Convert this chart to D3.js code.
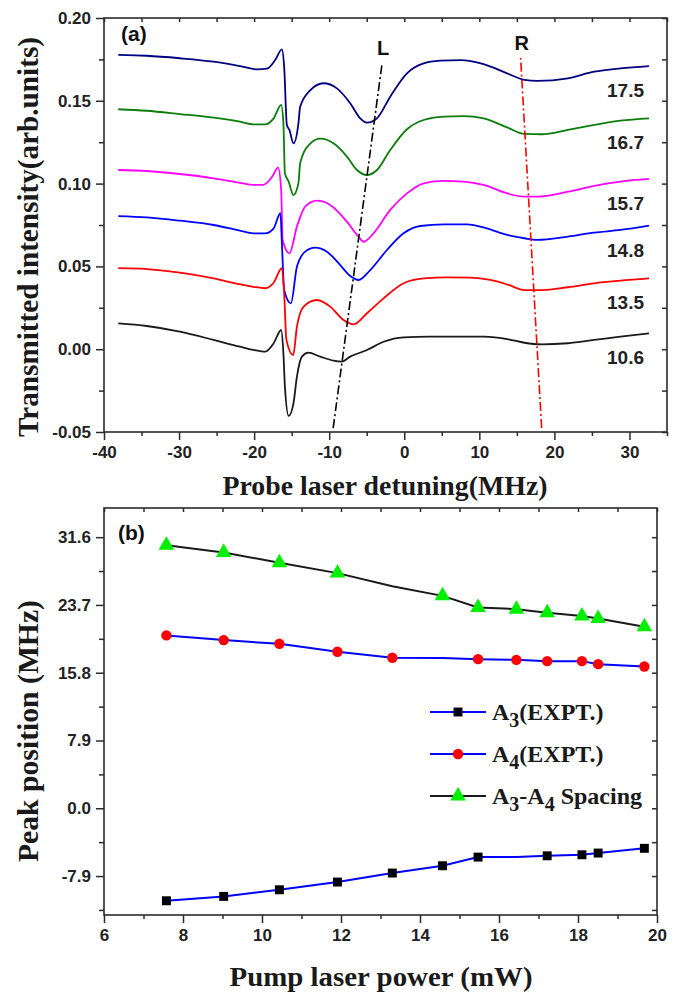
<!DOCTYPE html>
<html>
<head>
<meta charset="utf-8">
<script src="https://cdn.jsdelivr.net/npm/d3@7"></script>
<style>
body { margin: 0; background: #fff; }
.tick text { font-family: "Liberation Sans", Arial, sans-serif; font-weight: bold; font-size: 17px; fill: #222; }
.axis path { display: none; }
.axis line { stroke: #2b2b2b; stroke-width: 1.5px; }
</style>
</head>
<body>
<svg id="chart" width="687" height="995"></svg>
<script>
// ---- panel (a): transmission spectra, one per pump power (mW) ----
const detuneTicks = [-40, -30, -20, -10, 0, 10, 20, 30];
const intensityTicks = [-0.05, 0.00, 0.05, 0.10, 0.15, 0.20];

const trace175 = [[-38.1,0.1777],[-34.3,0.1772],[-29.9,0.1757],[-25.4,0.1736],[-21.9,0.1710],[-19.6,0.1690],[-18.3,0.1694],[-17.2,0.1746],[-16.3,0.1811],[-16.0,0.1706],[-15.64,0.1354],[-15.3,0.1324],[-14.76,0.1243],[-14.1,0.1364],[-13.87,0.1464],[-12.5,0.1565],[-10.76,0.1606],[-8.97,0.1575],[-7.2,0.1485],[-5.87,0.1394],[-4.97,0.1368],[-3.64,0.1394],[-1.87,0.1525],[0.36,0.1666],[2.58,0.1726],[4.8,0.1742],[7.47,0.1746],[10.57,0.1722],[13.7,0.1666],[16.0,0.1626],[17.7,0.1620],[21.8,0.1636],[25.3,0.1676],[28.8,0.1696],[32.6,0.1710]];
const trace167 = [[-38.1,0.1449],[-34.3,0.1440],[-29.9,0.1420],[-25.4,0.1398],[-21.9,0.1374],[-20.1,0.1358],[-18.5,0.1358],[-17.4,0.1394],[-16.4,0.1475],[-16.1,0.1364],[-15.9,0.1062],[-15.4,0.1012],[-14.76,0.0931],[-14.1,0.1002],[-13.87,0.1123],[-12.5,0.1243],[-11.2,0.1271],[-9.43,0.1243],[-7.64,0.1163],[-6.3,0.1082],[-4.97,0.1052],[-3.64,0.1082],[-1.87,0.1203],[0.36,0.1328],[2.58,0.1384],[5.24,0.1404],[7.9,0.1408],[10.57,0.1394],[13.7,0.1340],[16.0,0.1300],[18.3,0.1298],[21.8,0.1324],[25.3,0.1354],[28.8,0.1380],[32.6,0.1394]];
const trace157 = [[-38.1,0.1082],[-34.3,0.1076],[-29.9,0.1058],[-25.4,0.1032],[-21.9,0.1005],[-20.1,0.0992],[-18.8,0.0992],[-17.6,0.1042],[-16.8,0.1096],[-16.4,0.0961],[-16.2,0.0659],[-15.3,0.0579],[-14.3,0.0740],[-13.2,0.0861],[-11.64,0.0897],[-9.87,0.0871],[-7.64,0.0770],[-6.09,0.0679],[-5.43,0.0649],[-4.09,0.0700],[-1.87,0.0841],[0.36,0.0941],[2.58,0.1002],[5.24,0.1016],[7.9,0.1012],[10.57,0.0992],[13.7,0.0941],[16.0,0.0921],[17.7,0.0921],[21.8,0.0951],[25.3,0.0986],[28.8,0.1012],[32.6,0.1028]];
const trace148 = [[-38.1,0.0804],[-34.3,0.0796],[-29.9,0.0776],[-25.4,0.0750],[-21.9,0.0716],[-20.1,0.0700],[-18.5,0.0700],[-17.4,0.0730],[-16.5,0.0821],[-16.3,0.0640],[-16.0,0.0357],[-15.1,0.0277],[-14.3,0.0498],[-13.2,0.0589],[-11.87,0.0613],[-10.3,0.0589],[-8.53,0.0508],[-7.2,0.0442],[-6.09,0.0418],[-4.53,0.0478],[-2.31,0.0599],[-0.09,0.0700],[2.13,0.0744],[5.24,0.0754],[8.36,0.0754],[11.0,0.0730],[13.7,0.0690],[16.0,0.0670],[17.7,0.0660],[21.8,0.0680],[25.3,0.0704],[28.8,0.0720],[32.6,0.0746]];
const trace135 = [[-38.1,0.0489],[-34.3,0.0484],[-29.9,0.0462],[-25.4,0.0428],[-21.9,0.0392],[-20.1,0.0377],[-18.5,0.0368],[-17.4,0.0401],[-16.3,0.0489],[-16.0,0.0338],[-15.7,0.0056],[-14.8,-0.0035],[-14.3,0.0136],[-13.4,0.0257],[-11.64,0.0297],[-9.87,0.0257],[-8.09,0.0176],[-6.76,0.0150],[-4.97,0.0217],[-2.76,0.0307],[-0.09,0.0398],[2.58,0.0428],[5.69,0.0434],[8.8,0.0432],[11.47,0.0418],[13.9,0.0388],[16.0,0.0357],[18.3,0.0357],[21.8,0.0374],[25.3,0.0398],[28.8,0.0414],[32.6,0.0428]];
const trace106 = [[-38.1,0.0156],[-34.3,0.0140],[-29.9,0.0106],[-25.4,0.0056],[-21.9,0.0015],[-20.1,-0.0004],[-18.5,-0.0015],[-17.4,0.0036],[-16.4,0.0116],[-16.1,-0.0025],[-15.9,-0.0226],[-15.4,-0.0403],[-14.76,-0.0327],[-14.3,-0.0166],[-13.64,-0.0045],[-12.76,-0.0021],[-11.2,-0.0045],[-9.43,-0.0069],[-8.31,-0.0075],[-7.2,-0.0045],[-4.97,-0.0005],[-2.76,0.0045],[-0.09,0.0072],[3.47,0.0076],[7.0,0.0076],[10.57,0.0076],[13.9,0.0060],[16.0,0.0039],[18.3,0.0029],[21.8,0.0036],[25.3,0.0056],[28.8,0.0076],[32.6,0.0096]];

const traceLabels = ['17.5', '16.7', '15.7', '14.8', '13.5', '10.6'];
const traceColors = ['#000080', '#0a7d0a', '#ff00ff', '#0000ff', '#ff0000', '#1a1a1a'];
const traces = [trace175, trace167, trace157, trace148, trace135, trace106];

// guide lines through the L and R dips
const lineL = [[-9.47, -0.0476], [-2.95, 0.1728]];
const lineR = [[18.3, -0.0476], [15.5, 0.1758]];

// ---- panel (b): peak positions vs pump power ----
const power = [7.58, 9.03, 10.44, 11.91, 13.30, 14.57, 15.47, 16.44, 17.22, 18.10, 18.51, 19.68];
const a3Peak = [-10.78, -10.27, -9.50, -8.60, -7.55, -6.70, -5.69, -5.69, -5.54, -5.42, -5.22, -4.67];
const a4Peak = [20.15, 19.60, 19.17, 18.24, 17.54, 17.52, 17.38, 17.30, 17.15, 17.15, 16.80, 16.53];
const spacing = [30.67, 29.82, 28.61, 27.41, 25.89, 24.76, 23.41, 23.21, 22.78, 22.40, 22.13, 21.15];
// points where the original shows no marker
const a3NoMark = [7], a4NoMark = [5], spacingNoMark = [4];

const powerTicks = [6, 8, 10, 12, 14, 16, 18, 20];
const peakTicks = [-7.9, 0.0, 7.9, 15.8, 23.7, 31.6];

const svg = d3.select('#chart');
const serif = '"Liberation Serif","Times New Roman",serif';
const sans = '"Liberation Sans",Arial,sans-serif';
const axisColor = '#2b2b2b';

// layout
const A = {left: 104, right: 667, top: 18, bottom: 432};
const B = {left: 104, right: 657, top: 508, bottom: 915};

function drawFrame(p, x, y, xMajor, xMinor, yMajor, yMinor, yFmt) {
    const g = svg.append('g');
    g.append('g').attr('class', 'axis')
        .attr('transform', 'translate(0,' + p.bottom + ')')
        .call(d3.axisBottom(x).tickValues(xMinor).tickSize(4).tickFormat(''));
    g.append('g').attr('class', 'axis')
        .attr('transform', 'translate(0,' + p.bottom + ')')
        .call(d3.axisBottom(x).tickValues(xMajor).tickSize(8).tickPadding(6).tickFormat(d3.format('d')));
    g.append('g').attr('class', 'axis')
        .attr('transform', 'translate(' + p.left + ',0)')
        .call(d3.axisLeft(y).tickValues(yMinor).tickSize(5).tickFormat(''));
    g.append('g').attr('class', 'axis')
        .attr('transform', 'translate(' + p.left + ',0)')
        .call(d3.axisLeft(y).tickValues(yMajor).tickSize(8).tickPadding(5).tickFormat(yFmt));
    // mirrored inward ticks on top and right
    g.append('g').attr('class', 'axis')
        .attr('transform', 'translate(0,' + p.top + ')')
        .call(d3.axisTop(x).tickValues(xMajor.concat(xMinor)).tickSize(-4).tickFormat(''));
    g.append('g').attr('class', 'axis')
        .attr('transform', 'translate(' + p.right + ',0)')
        .call(d3.axisRight(y).tickValues(yMajor.concat(yMinor)).tickSize(-5).tickFormat(''));
    g.append('rect')
        .attr('x', p.left).attr('y', p.top)
        .attr('width', p.right - p.left).attr('height', p.bottom - p.top)
        .style('fill', 'none').style('stroke', axisColor).style('stroke-width', 1.6);
    // plain hyphen instead of the unicode minus
    g.selectAll('.tick text').text(function() { return this.textContent.replace('−', '-'); });
    return g;
}

// ---------- panel (a) ----------
const xA = d3.scaleLinear().domain([-40, 35]).range([A.left, A.right]);
const yA = d3.scaleLinear().domain([-0.05, 0.20]).range([A.bottom, A.top]);

const detuneMinor = d3.range(-35, 36, 10);
const intensityMinor = [-0.025, 0.025, 0.075, 0.125, 0.175];
drawFrame(A, xA, yA, detuneTicks, detuneMinor, intensityTicks, intensityMinor, d3.format('.2f'));

const lineGen = d3.line().x(d => xA(d[0])).y(d => yA(d[1])).curve(d3.curveMonotoneX);

traces.forEach((t, i) => {
    svg.append('path')
        .datum(t)
        .attr('d', lineGen)
        .style('fill', 'none')
        .style('stroke', traceColors[i])
        .style('stroke-width', 1.8);

    const last = t[t.length - 1];
    svg.append('text')
        .attr('x', 644)
        .attr('y', yA(last[1]) + 31)
        .style('text-anchor', 'end')
        .style('font-family', sans)
        .style('font-weight', 'bold')
        .style('font-size', '19px')
        .style('fill', '#222')
        .text(traceLabels[i]);
});

const straight = d3.line().x(d => xA(d[0])).y(d => yA(d[1]));
svg.append('path').datum(lineL).attr('d', straight)
    .style('fill', 'none').style('stroke', '#000').style('stroke-width', 1.6)
    .style('stroke-dasharray', '9,3,2,3');
svg.append('path').datum(lineR).attr('d', straight)
    .style('fill', 'none').style('stroke', '#ff0000').style('stroke-width', 1.6)
    .style('stroke-dasharray', '9,3,2,3');

[['L', lineL[1]], ['R', lineR[1]]].forEach(([s, pt]) => {
    svg.append('text')
        .attr('x', xA(pt[0]) + 1)
        .attr('y', yA(pt[1]) - 8)
        .style('text-anchor', 'middle')
        .style('font-family', sans)
        .style('font-weight', 'bold')
        .style('font-size', '20px')
        .style('fill', '#111')
        .text(s);
});

svg.append('text').attr('x', 121).attr('y', 41)
    .style('font-family', sans).style('font-weight', 'bold').style('font-size', '21px').style('fill', '#111')
    .text('(a)');

svg.append('text')
    .attr('x', 385).attr('y', 495)
    .style('text-anchor', 'middle')
    .style('font-family', serif).style('font-weight', 'bold').style('font-size', '28px').style('fill', '#1a1a1a')
    .attr('textLength', 325).attr('lengthAdjust', 'spacingAndGlyphs')
    .text('Probe laser detuning(MHz)');

svg.append('text')
    .attr('transform', 'translate(38,237) rotate(-90)')
    .style('text-anchor', 'middle')
    .style('font-family', serif).style('font-weight', 'bold').style('font-size', '29px').style('fill', '#1a1a1a')
    .attr('textLength', 400).attr('lengthAdjust', 'spacingAndGlyphs')
    .text('Transmitted intensity(arb.units)');

// ---------- panel (b) ----------
const xB = d3.scaleLinear().domain([6, 20]).range([B.left, B.right]);
const yB = d3.scaleLinear().domain([-12.44, 35]).range([B.bottom, B.top]);

const powerMinor = d3.range(7, 20, 2);
const peakMinor = [-11.85, -3.95, 3.95, 11.85, 19.75, 27.65];
drawFrame(B, xB, yB, powerTicks, powerMinor, peakTicks, peakMinor, d3.format('.1f'));

const seriesB = [
    {vals: spacing, line: '#1a1a1a', marker: 'triangle', fill: '#00ee00', skip: spacingNoMark},
    {vals: a4Peak, line: '#0000ff', marker: 'circle', fill: '#ff0000', skip: a4NoMark},
    {vals: a3Peak, line: '#0000ff', marker: 'square', fill: '#000000', skip: a3NoMark}
];

const lineB = d3.line().x(d => xB(d[0])).y(d => yB(d[1]));
const symbols = {
    triangle: d3.symbol().type(d3.symbolTriangle).size(105),
    circle: d3.symbol().type(d3.symbolCircle).size(85),
    square: d3.symbol().type(d3.symbolSquare).size(80)
};

seriesB.forEach(s => {
    const pts = power.map((p, i) => [p, s.vals[i]]);
    svg.append('path').datum(pts).attr('d', lineB)
        .style('fill', 'none').style('stroke', s.line).style('stroke-width', 2);
    svg.selectAll(null)
        .data(pts.filter((d, i) => !s.skip.includes(i)))
        .enter()
        .append('path')
        .attr('transform', d => 'translate(' + xB(d[0]) + ',' + yB(d[1]) + ')')
        .attr('d', symbols[s.marker])
        .style('fill', s.fill);
});

// legend
const legendRows = [
    {main: 'A', sub: '3', rest: '(EXPT.)', line: '#0000ff', marker: 'square', fill: '#000000'},
    {main: 'A', sub: '4', rest: '(EXPT.)', line: '#0000ff', marker: 'circle', fill: '#ff0000'},
    {main: 'A', sub: '3', rest: '-A', sub2: '4', rest2: ' Spacing', line: '#1a1a1a', marker: 'triangle', fill: '#00ee00'}
];
legendRows.forEach((r, i) => {
    const y = 712 + i * 42;
    svg.append('line').attr('x1', 430).attr('x2', 486).attr('y1', y).attr('y2', y)
        .style('stroke', r.line).style('stroke-width', 2);
    svg.append('path').attr('transform', 'translate(458,' + y + ')')
        .attr('d', symbols[r.marker]).style('fill', r.fill);
    const t = svg.append('text').attr('x', 492).attr('y', y + 8)
        .style('font-family', serif).style('font-weight', 'bold').style('font-size', '24px').style('fill', '#1a1a1a');
    t.append('tspan').text(r.main);
    t.append('tspan').attr('dy', 7).style('font-size', '20px').text(r.sub);
    t.append('tspan').attr('dy', -7).text(r.rest);
    if (r.sub2) {
        t.append('tspan').attr('dy', 7).style('font-size', '20px').text(r.sub2);
        t.append('tspan').attr('dy', -7).text(r.rest2);
    }
});

svg.append('text').attr('x', 118).attr('y', 540)
    .style('font-family', sans).style('font-weight', 'bold').style('font-size', '21px').style('fill', '#111')
    .text('(b)');

svg.append('text')
    .attr('x', 381).attr('y', 986)
    .style('text-anchor', 'middle')
    .style('font-family', serif).style('font-weight', 'bold').style('font-size', '28px').style('fill', '#1a1a1a')
    .attr('textLength', 303).attr('lengthAdjust', 'spacingAndGlyphs')
    .text('Pump laser power (mW)');

svg.append('text')
    .attr('transform', 'translate(38,731) rotate(-90)')
    .style('text-anchor', 'middle')
    .style('font-family', serif).style('font-weight', 'bold').style('font-size', '29px').style('fill', '#1a1a1a')
    .attr('textLength', 262).attr('lengthAdjust', 'spacingAndGlyphs')
    .text('Peak position (MHz)');
</script>
</body>
</html>
